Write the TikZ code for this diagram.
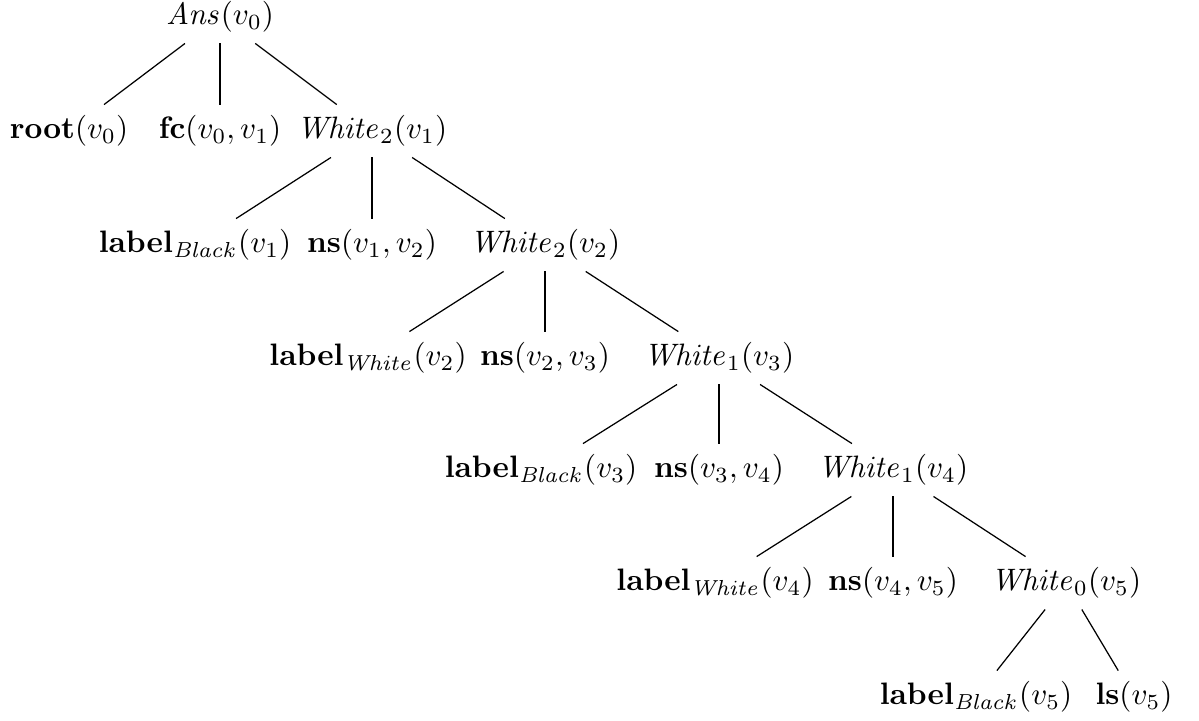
\documentclass[tikz,border=0pt]{standalone}
\usepackage{amsmath}
\begin{document}
\begin{tikzpicture}[x=0.3226pt, y=-0.3226pt,
  term/.style={inner sep=3.333pt},
  branch/.style={draw, line width=0.4pt}]
\useasboundingbox (0,0) rectangle (1199,720);

% root
\node[term] (a0) at (220,17) {$\mathit{Ans}(v_0)$};

% level 1
\node[term] (root0) at (69,131) {$\mathbf{root}(v_0)$};
\node[term] (fc01)  at (220,131) {$\mathbf{fc}(v_0, v_1)$};
\node[term] (w1)    at (372,131) {$\mathit{White}_2(v_1)$};

% level 2
\node[term] (lb1)  at (195,245) {$\mathbf{label}_{\mathit{Black}}(v_1)$};
\node[term] (ns12) at (372,245) {$\mathbf{ns}(v_1, v_2)$};
\node[term] (w2)   at (545,245) {$\mathit{White}_2(v_2)$};

% level 3
\node[term] (lw2)  at (368,358) {$\mathbf{label}_{\mathit{White}}(v_2)$};
\node[term] (ns23) at (545,358) {$\mathbf{ns}(v_2, v_3)$};
\node[term] (w3)   at (719,358) {$\mathit{White}_1(v_3)$};

% level 4
\node[term] (lb3)  at (541,470) {$\mathbf{label}_{\mathit{Black}}(v_3)$};
\node[term] (ns34) at (719,470) {$\mathbf{ns}(v_3, v_4)$};
\node[term] (w4)   at (893,470) {$\mathit{White}_1(v_4)$};

% level 5
\node[term] (lw4)  at (715,583) {$\mathbf{label}_{\mathit{White}}(v_4)$};
\node[term] (ns45) at (893,583) {$\mathbf{ns}(v_4, v_5)$};
\node[term] (w5)   at (1066,583) {$\mathit{White}_0(v_5)$};

% level 6
\node[term] (lb5) at (976,697) {$\mathbf{label}_{\mathit{Black}}(v_5)$};
\node[term] (ls5) at (1134,697) {$\mathbf{ls}(v_5)$};

% branches
\draw[branch] (a0) -- (root0);
\draw[branch] (a0) -- (fc01);
\draw[branch] (a0) -- (w1);
\draw[branch] (w1) -- (lb1);
\draw[branch] (w1) -- (ns12);
\draw[branch] (w1) -- (w2);
\draw[branch] (w2) -- (lw2);
\draw[branch] (w2) -- (ns23);
\draw[branch] (w2) -- (w3);
\draw[branch] (w3) -- (lb3);
\draw[branch] (w3) -- (ns34);
\draw[branch] (w3) -- (w4);
\draw[branch] (w4) -- (lw4);
\draw[branch] (w4) -- (ns45);
\draw[branch] (w4) -- (w5);
\draw[branch] (w5) -- (lb5);
\draw[branch] (w5) -- (ls5);
\end{tikzpicture}
\end{document}
